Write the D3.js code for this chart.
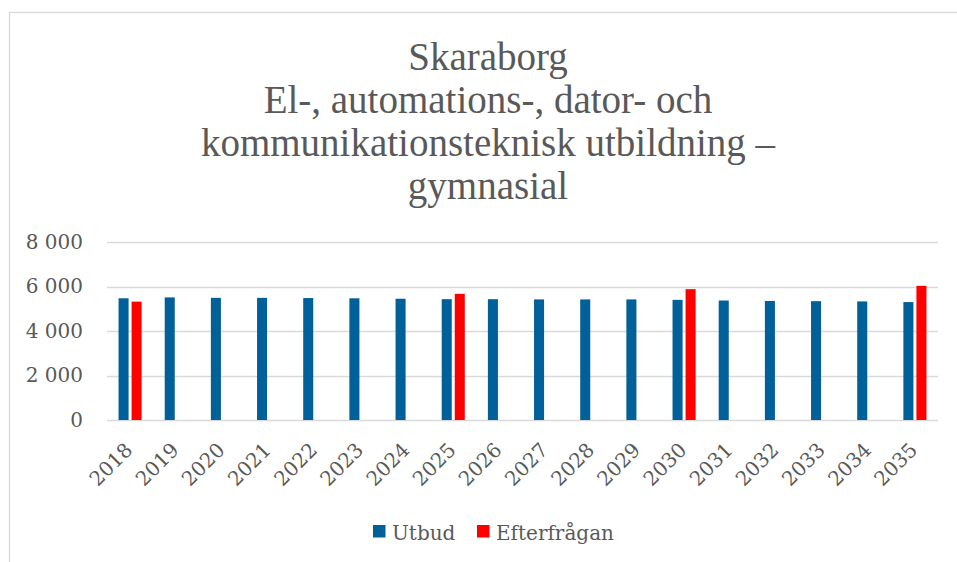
<!DOCTYPE html>
<html>
<head>
  <meta charset="UTF-8">
  <title>Skaraborg – utbud och efterfrågan</title>
  <script src="https://d3js.org/d3.v7.min.js"></script>
  <style>
    body {
      margin: 0;
      background: #ffffff;
    }
    .grid line {
      stroke: #d9d9d9;
      stroke-width: 1.3px;
    }
    .tick-label {
      font-family: "DejaVu Serif", serif;
      font-size: 20px;
      fill: #595959;
    }
    .title {
      font-family: "Liberation Serif", serif;
      font-size: 39px;
      fill: #595959;
      text-anchor: middle;
    }
  </style>
</head>
<body>
  <div id="chart"></div>
  <script>
    // data
    const years = ["2018", "2019", "2020", "2021", "2022", "2023", "2024", "2025", "2026",
                   "2027", "2028", "2029", "2030", "2031", "2032", "2033", "2034", "2035"];
    const utbud = [5470, 5510, 5490, 5490, 5480, 5470, 5450, 5430, 5430,
                   5420, 5420, 5420, 5400, 5370, 5350, 5340, 5330, 5300];
    const efterfragan = [5320, null, null, null, null, null, null, 5670, null,
                         null, null, null, 5880, null, null, null, null, 6030];
    const seriesNames = ["Utbud", "Efterfrågan"];
    const seriesColors = ["#00609a", "#ff0000"];
    const yTicks = [0, 2000, 4000, 6000, 8000];
    const titleLines = ["Skaraborg", "El-, automations-, dator- och",
                        "kommunikationsteknisk utbildning –", "gymnasial"];

    const width = 957, height = 562;
    const plot = {left: 107, right: 938, top: 242, bottom: 420};

    const svg = d3.select("#chart").append("svg")
        .attr("width", width)
        .attr("height", height);

    // chart border (cut off at the right and bottom in the original)
    svg.append("rect")
        .attr("x", 9.5).attr("y", 12.5)
        .attr("width", 960).attr("height", 560)
        .attr("fill", "none")
        .attr("stroke", "#d9d9d9")
        .attr("stroke-width", 1.3);

    // title
    svg.append("g").selectAll("text")
      .data(titleLines)
      .join("text")
        .attr("class", "title")
        .attr("x", 488)
        .attr("y", (d, i) => 70 + i * 43)
        .text(d => d);

    const x0 = d3.scaleBand()
        .domain(years)
        .range([plot.left, plot.right]);

    const bw = x0.bandwidth();
    const x1 = d3.scaleBand()
        .domain(seriesNames)
        .range([bw * 0.25, bw * 0.75])
        .paddingInner(0.23);

    const y = d3.scaleLinear()
        .domain([0, 8000])
        .range([plot.bottom, plot.top]);

    const fmt = v => d3.format(",")(v).replace(/,/g, " ");

    // gridlines
    svg.append("g")
        .attr("class", "grid")
      .selectAll("line")
      .data(yTicks)
      .join("line")
        .attr("x1", plot.left).attr("x2", plot.right)
        .attr("y1", d => Math.round(y(d)) + 0.5)
        .attr("y2", d => Math.round(y(d)) + 0.5);

    // y axis labels
    const yAxis = d3.axisLeft(y).tickValues(yTicks).tickFormat(fmt).tickSize(0).tickPadding(0);
    const gy = svg.append("g")
        .attr("transform", `translate(83,0)`)
        .call(yAxis);
    gy.select(".domain").remove();
    gy.selectAll("text")
        .attr("class", "tick-label")
        .attr("font-family", null)
        .attr("font-size", null)
        .attr("fill", null);

    // bars
    const rows = years.map((yr, i) => ({year: yr, values: [utbud[i], efterfragan[i]]}));
    const groups = svg.append("g").selectAll("g")
      .data(rows)
      .join("g")
        .attr("transform", d => `translate(${x0(d.year)},0)`);

    groups.selectAll("rect")
      .data(d => d.values.map((v, j) => ({key: seriesNames[j], value: v, color: seriesColors[j]}))
                          .filter(d => d.value != null))
      .join("rect")
        .attr("x", d => x1(d.key))
        .attr("width", x1.bandwidth())
        .attr("y", d => y(d.value))
        .attr("height", d => y(0) - y(d.value))
        .attr("fill", d => d.color);

    // x axis labels, rotated
    svg.append("g").selectAll("text")
      .data(years)
      .join("text")
        .attr("class", "tick-label")
        .attr("text-anchor", "end")
        .attr("transform", d => `translate(${x0(d) + bw / 2 - 6.5},441) rotate(-45)`)
        .attr("dy", "0.72em")
        .text(d => d);

    // legend
    const legend = svg.append("g")
        .attr("transform", "translate(373,525)");
    const legendX = [0, 104];
    seriesNames.forEach((name, i) => {
      const item = legend.append("g").attr("transform", `translate(${legendX[i]},0)`);
      item.append("rect")
          .attr("width", 12.5).attr("height", 12.5)
          .attr("fill", seriesColors[i]);
      item.append("text")
          .attr("class", "tick-label")
          .attr("x", 19)
          .attr("y", 14.5)
          .text(name);
    });
  </script>
</body>
</html>
